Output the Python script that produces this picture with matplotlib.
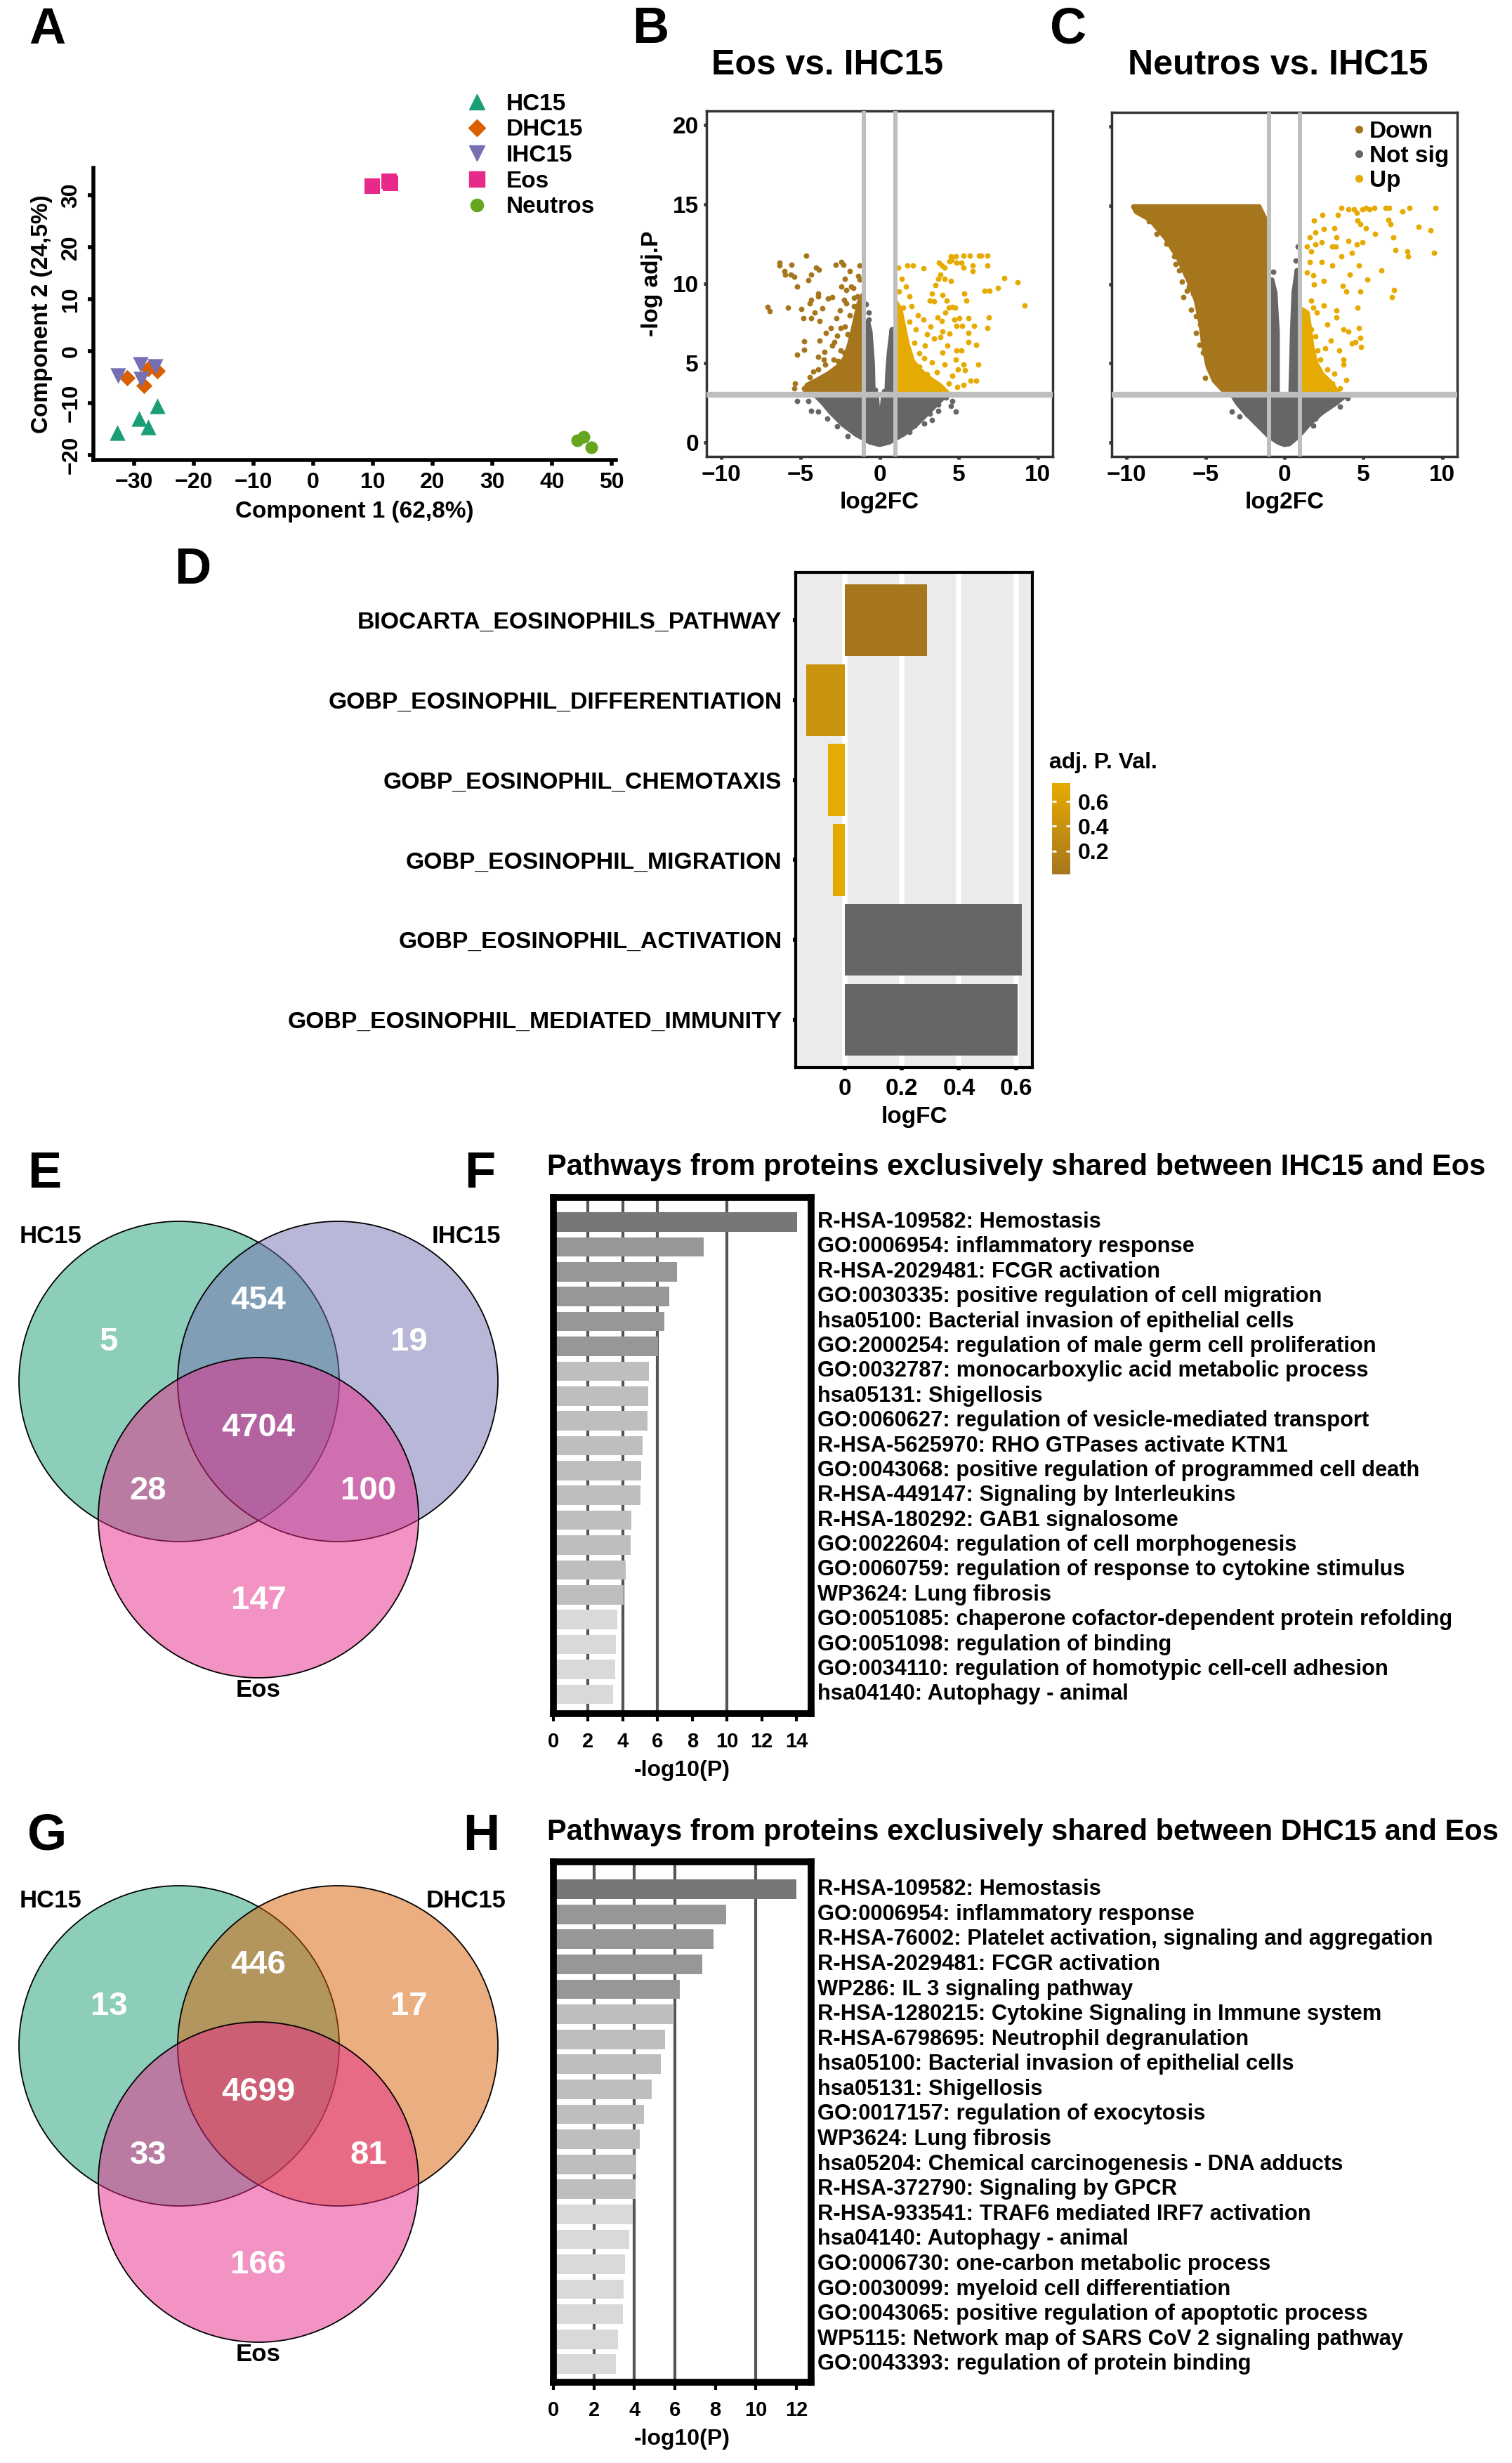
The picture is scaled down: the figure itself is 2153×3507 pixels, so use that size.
import numpy as np
import matplotlib
matplotlib.use("Agg")
import matplotlib.pyplot as plt
from matplotlib.patches import Circle
from matplotlib.lines import Line2D
from matplotlib.colors import LinearSegmentedColormap, Normalize, to_rgba
from matplotlib.cm import ScalarMappable
import matplotlib.transforms as mtransforms

plt.rcParams['font.family'] = ['Liberation Sans', 'DejaVu Sans']
plt.rcParams['font.weight'] = 'bold'
plt.rcParams['axes.labelweight'] = 'bold'

# ---------------- data ----------------
# A: PCA
hc15 = [(-32.8, -15.7), (-29.1, -13.0), (-27.6, -14.7), (-26.1, -10.6)]
dhc15 = [(-31.2, -5.15), (-28.3, -6.7), (-27.6, -3.4), (-26.1, -3.8)]
ihc15 = [(-32.7, -4.8), (-28.9, -2.55), (-28.8, -5.4), (-26.4, -3.0)]
eos_pca = [(9.9, 31.8), (12.7, 32.7), (12.9, 32.3)]
neutros = [(44.2, -17.2), (45.3, -16.6), (46.6, -18.6)]
pca_groups = ['HC15', 'DHC15', 'IHC15', 'Eos', 'Neutros']

# B: Eos vs IHC15 volcano
eos_down = [(-4.64, 11.79), (-6.35, 11.33), (-6.33, 11.15), (-5.56, 11.18), (-6.0, 10.78),
            (-5.98, 10.59), (-5.6, 10.56), (-5.38, 10.45), (-5.2, 9.84), (-4.34, 10.59),
            (-4.49, 10.23), (-4.0, 11.03), (-3.85, 10.9), (-2.78, 11.18), (-2.44, 11.38),
            (-2.29, 11.18), (-2.22, 10.29), (-2.41, 9.84), (-1.81, 9.84), (-1.67, 9.74),
            (-1.25, 11.15), (-1.37, 10.48), (-1.25, 10.26), (-3.9, 9.37), (-3.87, 9.19),
            (-4.31, 9.0), (-4.42, 8.77), (-3.26, 9.07), (-3.0, 9.14), (-3.6, 8.45),
            (-4.94, 8.4), (-5.8, 8.5), (-7.09, 8.55), (-6.94, 8.25), (-4.82, 7.81),
            (-4.31, 7.81), (-4.12, 8.18), (-3.78, 7.66), (-3.38, 6.91), (-3.08, 7.21),
            (-2.71, 7.81), (-2.48, 7.21), (-2.19, 7.29), (-2.26, 9.0), (-2.11, 8.77),
            (-4.76, 6.35), (-4.76, 5.84), (-5.2, 5.53), (-3.82, 6.39), (-3.48, 5.7),
            (-3.0, 6.1), (-2.86, 6.32), (-2.93, 5.2), (-2.63, 5.13), (-2.48, 5.8),
            (-2.26, 5.65), (-3.52, 5.2), (-3.45, 4.9), (-3.9, 4.61), (-4.19, 4.46),
            (-4.42, 4.09), (-5.35, 3.72), (-5.38, 3.42), (-4.79, 3.42), (-1.6, 8.6),
            (-1.4, 9.2), (-1.2, 8.3), (-1.9, 8.0), (-1.5, 7.6), (-1.1, 7.9), (-2.0, 6.8),
            (-1.7, 6.5), (-1.3, 7.0), (-2.9, 4.5), (-3.2, 3.9), (-2.7, 6.7), (-3.9, 5.4),
            (-2.1, 9.6), (-1.9, 10.8), (-1.6, 9.1), (-2.5, 8.3), (-4.1, 3.6), (-3.6, 3.9)]
eos_up = [(1.16, 11.0), (1.75, 11.15), (2.1, 11.15), (2.77, 10.97), (3.76, 11.33), (3.91, 11.15),
          (4.13, 11.0), (4.5, 11.75), (4.8, 11.75), (5.32, 11.79), (5.7, 11.79), (6.29, 11.79),
          (6.44, 11.79), (6.84, 11.79), (4.42, 11.43), (4.57, 11.5), (4.87, 11.33), (5.17, 11.33),
          (5.32, 11.0), (5.89, 11.15), (5.89, 10.78), (6.84, 11.15), (3.69, 10.33), (3.84, 10.56),
          (4.13, 10.33), (4.5, 10.19), (7.88, 10.36), (8.71, 10.11), (6.63, 9.56), (6.96, 9.56),
          (7.48, 9.74), (9.16, 8.62), (5.35, 9.37), (5.5, 8.95), (3.54, 9.89), (3.32, 9.37),
          (3.96, 9.29), (3.17, 8.95), (3.46, 8.89), (1.68, 9.81), (1.9, 9.22), (4.24, 8.95),
          (4.36, 8.5), (4.58, 8.52), (4.76, 8.5), (4.16, 8.18), (6.91, 7.88), (6.81, 7.21),
          (5.62, 7.81), (5.96, 7.32), (5.62, 6.91), (5.24, 7.36), (4.87, 7.36), (5.02, 7.81),
          (4.73, 7.74), (2.77, 7.74), (3.24, 7.29), (3.66, 7.89), (3.91, 7.66), (3.99, 6.99),
          (4.44, 6.84), (3.84, 6.62), (6.1, 6.14), (5.62, 6.32), (5.17, 5.8), (4.87, 5.8),
          (4.27, 6.1), (3.99, 5.65), (3.46, 6.54), (2.86, 6.1), (6.25, 4.9), (5.32, 4.9),
          (5.39, 4.54), (4.95, 4.61), (4.8, 5.2), (4.13, 4.9), (3.32, 5.05), (2.5, 4.76),
          (2.05, 4.61), (1.68, 5.2), (5.76, 3.87), (6.1, 3.87), (5.3, 3.64), (4.36, 3.72),
          (1.3, 6.0), (1.4, 7.0), (1.25, 8.0), (1.5, 8.5), (1.2, 5.0), (2.2, 6.3), (2.5, 5.6),
          (1.9, 7.6), (2.4, 8.0), (2.0, 8.6), (3.0, 4.3), (3.6, 4.4), (2.8, 5.3), (4.6, 4.2),
          (1.2, 9.5), (1.4, 10.3), (2.3, 7.1), (3.0, 6.8), (4.9, 3.5)]
eos_ns = [(-5.23, 2.6), (-4.31, 2.0), (-3.9, 1.93), (3.73, 2.4), (3.69, 2.0), (4.8, 1.93),
          (4.5, 2.3), (3.16, 1.79), (3.3, 1.42), (2.8, 1.19), (1.9, 0.67), (2.2, 1.04),
          (-0.85, 8.7), (-0.7, 7.73), (-0.7, 8.2), (0.79, 7.14), (-0.3, 3.3), (0.3, 3.2),
          (-2.0, 0.4), (-2.7, 1.0), (-3.3, 1.5), (-4.5, 2.6), (4.2, 2.8), (4.6, 2.6)]
# outlines of the densely packed point clouds
eos_down_area = [(-4.7, 3.1), (-1.05, 3.1), (-1.05, 9.3), (-1.3, 8.8), (-1.5, 7.9), (-1.7, 7.0),
                 (-1.9, 6.2), (-2.2, 5.3), (-2.6, 4.8), (-3.2, 4.35), (-3.9, 3.95), (-4.6, 3.6)]
eos_up_area = [(1.05, 3.1), (4.3, 3.1), (3.8, 3.6), (3.2, 4.0), (2.6, 4.5), (2.1, 5.1),
               (1.75, 6.2), (1.5, 7.4), (1.3, 8.4), (1.05, 8.8)]
eos_ns_area = [(-4.1, 3.0), (-0.2, 3.0), (0.0, 0.6), (0.25, 3.0), (4.2, 3.0), (3.6, 2.4),
               (3.0, 1.8), (2.3, 1.1), (1.5, 0.5), (0.6, 0.0), (0.0, -0.15), (-0.6, 0.0),
               (-1.5, 0.5), (-2.3, 1.1), (-3.1, 1.9), (-3.6, 2.5)]
eos_ns_left = [(-0.85, 3.0), (-0.4, 3.0), (-0.45, 5.0), (-0.6, 7.0), (-0.75, 7.6), (-0.85, 6.0)]
eos_ns_right = [(0.45, 3.0), (0.85, 3.0), (0.85, 6.0), (0.78, 7.1), (0.6, 5.6), (0.5, 4.2)]

# C: Neutros vs IHC15 volcano
neu_down = [(-9.35, 14.78), (-8.9, 14.4), (-8.38, 14.3), (-7.93, 13.88), (-7.63, 13.58),
            (-7.26, 12.99), (-7.19, 12.54), (-6.82, 12.39), (-6.67, 11.79), (-6.37, 11.19),
            (-6.67, 10.9), (-6.22, 10.6), (-5.92, 10.3), (-6.07, 9.85), (-5.77, 9.4),
            (-6.4, 9.18), (-5.48, 8.66), (-5.25, 8.21), (-5.33, 7.46), (-5.6, 6.94),
            (-5.18, 6.42), (-5.4, 6.19), (-5.18, 5.67), (-4.88, 5.37), (-4.81, 4.93),
            (-5.03, 4.1), (-4.58, 4.48), (-4.29, 3.88), (-3.69, 3.51), (-8.6, 14.0),
            (-8.1, 13.2), (-7.0, 11.8), (-6.5, 10.2), (-5.6, 8.0), (-9.0, 14.6),
            (-8.0, 14.2), (-7.5, 12.6), (-6.9, 11.3), (-6.2, 9.6), (-5.9, 8.4)]
neu_up = [(3.6, 14.85), (4.05, 14.78), (4.42, 14.78), (4.57, 14.55), (4.94, 14.78), (5.16, 14.85),
          (5.39, 14.78), (5.68, 14.85), (6.43, 14.85), (6.65, 14.85), (7.47, 14.63), (7.92, 14.85),
          (9.55, 14.85), (4.64, 14.03), (4.79, 13.81), (5.16, 13.58), (5.76, 13.21), (6.58, 14.1),
          (6.73, 13.81), (6.88, 12.99), (7.02, 12.16), (7.77, 12.09), (7.84, 11.79), (8.51, 13.66),
          (9.26, 13.43), (9.48, 12.01), (3.38, 14.4), (2.41, 14.4), (1.89, 14.03), (3.15, 13.58),
          (2.49, 13.51), (1.96, 13.28), (1.59, 12.99), (1.44, 12.39), (1.67, 12.09), (1.96, 12.54),
          (2.34, 12.69), (3.3, 12.99), (3.01, 12.39), (3.23, 12.39), (3.6, 11.79), (4.05, 12.76),
          (4.57, 12.54), (4.94, 12.69), (4.27, 12.01), (4.72, 11.19), (6.13, 10.9), (3.01, 11.19),
          (2.34, 11.42), (1.59, 11.42), (1.44, 10.75), (1.82, 10.6), (1.89, 10.0), (2.49, 10.22),
          (4.12, 10.63), (5.24, 10.3), (3.68, 9.93), (3.9, 9.55), (4.79, 9.55), (6.95, 9.63),
          (6.8, 9.18), (1.67, 8.96), (1.82, 8.51), (2.04, 8.21), (2.49, 8.66), (3.3, 8.36),
          (4.64, 8.51), (1.37, 7.61), (1.67, 7.16), (1.96, 6.72), (2.71, 7.46), (3.3, 7.91),
          (3.75, 7.16), (4.05, 7.01), (4.72, 7.24), (4.79, 6.64), (4.87, 6.04), (4.49, 6.34),
          (4.27, 6.27), (1.37, 6.12), (2.11, 5.82), (2.56, 5.97), (2.93, 6.42), (3.45, 5.82),
          (3.75, 5.22), (3.9, 3.96), (3.75, 4.93), (3.15, 4.33), (2.71, 4.63), (2.26, 5.22),
          (1.82, 4.93), (1.52, 4.18), (1.96, 3.88), (2.56, 4.03), (3.01, 3.73), (3.53, 3.43),
          (1.37, 3.58), (1.67, 3.36)]
neu_ns = [(-3.32, 1.94), (-2.87, 1.64), (-2.38, 1.79), (1.82, 1.04), (1.96, 1.49), (3.15, 2.69),
          (3.53, 2.24), (4.0, 2.8), (0.85, 12.4), (0.7, 11.5), (-0.7, 10.8)]
neu_down_area = [(-9.57, 14.93), (-1.61, 14.93), (-1.24, 14.18), (-1.19, 12.99), (-1.19, 3.21),
                 (-3.8, 3.21), (-4.45, 3.9), (-4.85, 4.8), (-5.1, 6.0), (-5.3, 7.5),
                 (-5.6, 9.0), (-6.1, 10.3), (-6.7, 11.6), (-7.5, 12.9), (-8.5, 14.1),
                 (-9.4, 14.6)]
neu_up_area = [(1.15, 3.1), (3.4, 3.1), (3.0, 3.7), (2.4, 4.3), (2.0, 5.0), (1.75, 6.0),
               (1.6, 7.2), (1.45, 8.2), (1.15, 8.4)]
neu_ns_area = [(-3.3, 3.0), (-0.15, 3.0), (0.0, 1.35), (0.15, 3.0), (3.9, 3.0), (3.3, 2.5),
               (2.4, 1.9), (1.6, 1.2), (0.9, 0.4), (0.3, -0.1), (0.0, -0.15), (-0.4, 0.0),
               (-1.0, 0.4), (-1.7, 1.1), (-2.4, 1.8), (-3.0, 2.5)]
neu_ns_left = [(-0.85, 3.0), (-0.45, 3.0), (-0.45, 7.0), (-0.6, 9.5), (-0.8, 10.3), (-0.85, 8.0)]
neu_ns_right = [(0.4, 3.0), (0.85, 3.0), (0.85, 9.0), (0.8, 10.9), (0.6, 9.5), (0.5, 7.0)]

# D: eosinophil gene sets
d_terms = ['BIOCARTA_EOSINOPHILS_PATHWAY', 'GOBP_EOSINOPHIL_DIFFERENTIATION',
           'GOBP_EOSINOPHIL_CHEMOTAXIS', 'GOBP_EOSINOPHIL_MIGRATION',
           'GOBP_EOSINOPHIL_ACTIVATION', 'GOBP_EOSINOPHIL_MEDIATED_IMMUNITY']
d_logfc = [0.288, -0.133, -0.059, -0.040, 0.619, 0.606]
d_pval = [0.01, 0.42, 0.75, 0.74, np.nan, np.nan]

# E / G: Venn counts (A only, A&B, B only, A&B&C, A&C, B&C, C only)
e_sets = ['HC15', 'IHC15', 'Eos']
e_counts = [5, 454, 19, 4704, 28, 100, 147]
g_sets = ['HC15', 'DHC15', 'Eos']
g_counts = [13, 446, 17, 4699, 33, 81, 166]

# F / H: enrichment
f_terms = ['R-HSA-109582: Hemostasis', 'GO:0006954: inflammatory response',
           'R-HSA-2029481: FCGR activation', 'GO:0030335: positive regulation of cell migration',
           'hsa05100: Bacterial invasion of epithelial cells',
           'GO:2000254: regulation of male germ cell proliferation',
           'GO:0032787: monocarboxylic acid metabolic process', 'hsa05131: Shigellosis',
           'GO:0060627: regulation of vesicle-mediated transport',
           'R-HSA-5625970: RHO GTPases activate KTN1',
           'GO:0043068: positive regulation of programmed cell death',
           'R-HSA-449147: Signaling by Interleukins', 'R-HSA-180292: GAB1 signalosome',
           'GO:0022604: regulation of cell morphogenesis',
           'GO:0060759: regulation of response to cytokine stimulus', 'WP3624: Lung fibrosis',
           'GO:0051085: chaperone cofactor-dependent protein refolding',
           'GO:0051098: regulation of binding',
           'GO:0034110: regulation of homotypic cell-cell adhesion',
           'hsa04140: Autophagy - animal']
f_logp = [14.03, 8.66, 7.11, 6.68, 6.41, 6.04, 5.49, 5.45, 5.42, 5.12,
          5.07, 5.01, 4.51, 4.46, 4.15, 4.05, 3.68, 3.61, 3.55, 3.45]
h_terms = ['R-HSA-109582: Hemostasis', 'GO:0006954: inflammatory response',
           'R-HSA-76002: Platelet activation, signaling and aggregation',
           'R-HSA-2029481: FCGR activation', 'WP286: IL 3 signaling pathway',
           'R-HSA-1280215: Cytokine Signaling in Immune system',
           'R-HSA-6798695: Neutrophil degranulation',
           'hsa05100: Bacterial invasion of epithelial cells', 'hsa05131: Shigellosis',
           'GO:0017157: regulation of exocytosis', 'WP3624: Lung fibrosis',
           'hsa05204: Chemical carcinogenesis - DNA adducts', 'R-HSA-372790: Signaling by GPCR',
           'R-HSA-933541: TRAF6 mediated IRF7 activation', 'hsa04140: Autophagy - animal',
           'GO:0006730: one-carbon metabolic process', 'GO:0030099: myeloid cell differentiation',
           'GO:0043065: positive regulation of apoptotic process',
           'WP5115: Network map of SARS CoV 2 signaling pathway',
           'GO:0043393: regulation of protein binding']
h_logp = [11.99, 8.52, 7.92, 7.34, 6.26, 5.91, 5.50, 5.32, 4.84, 4.49,
          4.27, 4.11, 4.06, 3.93, 3.73, 3.55, 3.48, 3.42, 3.18, 3.08]

# ---------------- figure ----------------
W, H = 2153, 3507
fig = plt.figure(figsize=(W / 100, H / 100), dpi=100)


def box(l, t, r, b):
    return [l / W, 1 - b / H, (r - l) / W, (b - t) / H]


def ftext(x, y, s, **kw):
    fig.text(x / W, 1 - y / H, s, **kw)


for letter, x, y in [('A', 67, 43), ('B', 926, 42), ('C', 1521, 42), ('D', 274, 812),
                     ('E', 63, 1672), ('F', 683, 1672), ('G', 67, 2615), ('H', 685, 2615)]:
    ftext(x, y, letter, fontsize=52, ha='center', va='center')

# ---- A: PCA ----
ax = fig.add_axes(box(133, 239, 877, 655))
pca_style = [('#1B9E77', '^', 260), ('#D95F02', 'D', 140), ('#7570B3', 'v', 260),
             ('#E7298A', 's', 240), ('#66A61E', 'o', 170)]
handles = []
for pts, name, (col, mk, sz) in zip([hc15, dhc15, ihc15, eos_pca, neutros], pca_groups, pca_style):
    p = np.array(pts)
    ax.scatter(p[:, 0], p[:, 1], marker=mk, s=sz, color=col, lw=0, zorder=3)
    handles.append(Line2D([], [], marker=mk, ls='', color=col, markersize=np.sqrt(sz), label=name))
ax.set_xlim(-36.8, 50.7)
ax.set_ylim(-21, 35.3)
ax.spines[['top', 'right']].set_visible(False)
ax.spines[['left', 'bottom']].set_linewidth(4)
ax.set_xticks(range(-30, 51, 10))
ax.set_yticks(range(-20, 31, 10))
ax.tick_params(width=4, length=6, labelsize=23, pad=6)
for lab in ax.get_yticklabels():
    lab.set_rotation(90)
    lab.set_va('center')
ax.set_xlabel('Component 1 (62,8%)', fontsize=24, labelpad=8)
ax.set_ylabel('Component 2 (24,5%)', fontsize=24, labelpad=8)
ax.legend(handles=handles, loc='upper left', bbox_to_anchor=(646 / W, 1 - 116 / H),
          bbox_transform=fig.transFigure, frameon=False, fontsize=24, labelspacing=0.17,
          handletextpad=0.75, handlelength=1.0, borderpad=0)

# ---- B / C: volcano plots ----
C_DOWN, C_UP, C_NS = '#A6761D', '#E6AB02', '#666666'


def volcano(ax, down, up, ns, areas):
    for area, col in areas:
        a = np.array(area)
        poly = ax.fill(a[:, 0], a[:, 1], facecolor=col, edgecolor=col, lw=5, zorder=2)[0]
        poly.set_joinstyle('round')
    for pts, col in [(ns, C_NS), (down, C_DOWN), (up, C_UP)]:
        p = np.array(pts)
        ax.scatter(p[:, 0], p[:, 1], s=32, color=col, lw=0, zorder=2)
    ax.axvline(-1, color='#BEBEBE', lw=4.3, zorder=4)
    ax.axvline(1, color='#BEBEBE', lw=4.3, zorder=4)
    ax.axhline(3, color='#BEBEBE', lw=6, zorder=4)
    ax.set_xlim(-10.95, 10.95)
    ax.set_ylim(-0.9, 20.9)
    ax.set_xticks([-10, -5, 0, 5, 10])
    ax.set_yticks([0, 5, 10, 15, 20])
    for s in ax.spines.values():
        s.set_color('#333333')
        s.set_linewidth(2.5)
    ax.tick_params(color='#333333', width=3.5, length=3, labelsize=24, pad=5)
    ax.set_xlabel('log2FC', fontsize=24, labelpad=6)


axb = fig.add_axes(box(1006, 158, 1499, 650))
volcano(axb, eos_down, eos_up, eos_ns,
        [(eos_ns_area, C_NS), (eos_ns_left, C_NS), (eos_ns_right, C_NS),
         (eos_down_area, C_DOWN), (eos_up_area, C_UP)])
axb.set_ylabel('-log adj.P', fontsize=24, labelpad=10)
ftext(1178, 93, 'Eos vs. IHC15', fontsize=36, ha='center', va='center')

axc = fig.add_axes(box(1583, 160, 2075, 650))
volcano(axc, neu_down, neu_up, neu_ns,
        [(neu_ns_area, C_NS), (neu_ns_left, C_NS), (neu_ns_right, C_NS),
         (neu_down_area, C_DOWN), (neu_up_area, C_UP)])
axc.set_yticklabels([])
ftext(1820, 93, 'Neutros vs. IHC15', fontsize=36, ha='center', va='center')
leg_h = [Line2D([], [], marker='o', ls='', color=c, markersize=7) for c in (C_DOWN, C_NS, C_UP)]
axc.legend(leg_h, ['Down', 'Not sig', 'Up'], loc='upper right', frameon=False, fontsize=24,
           handletextpad=0.05, labelspacing=0.12, handlelength=0.8, borderaxespad=0.35,
           borderpad=0)

# ---- D: gene set bars ----
cmap_d = LinearSegmentedColormap.from_list('adjp', [C_DOWN, C_UP])
norm_d = Normalize(vmin=np.nanmin(d_pval), vmax=np.nanmax(d_pval))
axd = fig.add_axes(box(1133, 815, 1470, 1520))
axd.set_facecolor('#EBEBEB')
d_cols = ['#666666' if np.isnan(p) else cmap_d(norm_d(p)) for p in d_pval]
axd.barh(np.arange(len(d_terms)), d_logfc, height=0.9, color=d_cols, zorder=3)
axd.set_ylim(len(d_terms) - 0.4, -0.6)
axd.set_xlim(-0.171, 0.657)
axd.set_xticks([0, 0.2, 0.4, 0.6])
axd.set_xticklabels(['0', '0.2', '0.4', '0.6'])
axd.set_yticks(np.arange(len(d_terms)))
axd.set_yticklabels(d_terms)
axd.grid(axis='x', color='white', lw=5.5)
axd.set_axisbelow(True)
for s in axd.spines.values():
    s.set_linewidth(3)
axd.tick_params(axis='y', width=4, length=3, labelsize=24.3, pad=11)
axd.tick_params(axis='x', width=4, length=3, labelsize=24, pad=8)
axd.set_xlabel('logFC', fontsize=24, labelpad=6)

cax = fig.add_axes(box(1498, 1115, 1524, 1245))
cb = fig.colorbar(ScalarMappable(norm=norm_d, cmap=cmap_d), cax=cax)
cb.outline.set_visible(False)
cb.set_ticks([0.2, 0.4, 0.6])
cb.ax.tick_params(color='white', length=4, width=2, direction='in', left=True, right=True,
                  labelsize=23, pad=8)
ftext(1494, 1086, 'adj. P. Val.', fontsize=23, ha='left', va='center')

# ---- E / G: Venn diagrams ----
VENN_COL = {'HC15': '#1B9E77', 'IHC15': '#7570B3', 'DHC15': '#D95F02', 'Eos': '#E7298A'}


def venn(top, sets, counts):
    axv = fig.add_axes(box(0, top, 740, top + 800))
    axv.set_xlim(0, 740)
    axv.set_ylim(top + 800, top)
    axv.axis('off')
    cy = top + 327
    centers = [(255, cy), (481, cy), (368, cy + 194)]
    for (x, y), name in zip(centers, sets):
        axv.add_patch(Circle((x, y), 228, facecolor=to_rgba(VENN_COL[name], 0.5),
                             edgecolor='black', lw=1.3))
    offs = [(-100, -56), (113, -115), (327, -56), (113, 66), (-44, 156), (270, 156), (113, 312)]
    for (dx, dy), n in zip(offs, counts):
        axv.text(255 + dx, cy + dy, str(n), color='white', fontsize=34, ha='center', va='center')
    axv.text(72, cy - 206, sets[0], fontsize=25, ha='center', va='center')
    axv.text(664, cy - 206, sets[1], fontsize=25, ha='center', va='center')
    axv.text(368, cy + 440, sets[2], fontsize=25, ha='center', va='center')


venn(1640, e_sets, e_counts)
venn(2586, g_sets, g_counts)


# ---- F / H: enrichment bars ----
def enrich(top, bottom, terms, logp, xmax, ylim, title, title_y):
    axe = fig.add_axes(box(788, top, 1155, bottom))
    vals = np.array(logp)
    shades = np.array(['#D9D9D9', '#BEBEBE', '#979797', '#777777'])
    cols = shades[np.digitize(vals, [4, 6, 10])]
    y = np.arange(len(terms))
    axe.barh(y, vals, height=0.78, color=cols, zorder=2)
    for v in [2, 4, 6, 10]:
        axe.axvline(v, color='#555555', lw=3, zorder=1)
    axe.set_xlim(0, xmax)
    axe.set_ylim(*ylim)
    axe.set_yticks([])
    axe.set_xticks(range(0, int(xmax) + 1, 2))
    for s in axe.spines.values():
        s.set_linewidth(7)
    axe.tick_params(axis='x', width=3, length=8, labelsize=21, pad=11)
    axe.set_xlabel('-log10(P)', fontsize=23, labelpad=8)
    trans = mtransforms.blended_transform_factory(axe.transAxes, axe.transData)
    for i, t in enumerate(terms):
        axe.text(1.0245, i, t, transform=trans, fontsize=22.2, ha='left', va='center')
    ftext(779, title_y, title, fontsize=30, ha='left', va='center')


enrich(1705, 2440, f_terms, f_logp, 14.85, (19.78, -0.99),
       'Pathways from proteins exclusively shared between IHC15 and Eos', 1662)
enrich(2651, 3392, h_terms, h_logp, 12.73, (19.72, -1.1),
       'Pathways from proteins exclusively shared between DHC15 and Eos', 2609)

fig.savefig('out.png', dpi=100)
